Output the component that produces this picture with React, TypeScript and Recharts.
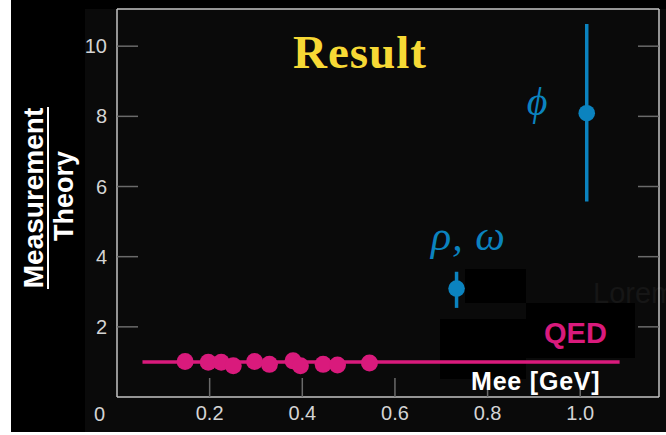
import React from 'react';
import { ComposedChart, XAxis, YAxis, Scatter, Line, ErrorBar } from 'recharts';

// ---- data ----
const qedMass = [0.147, 0.197, 0.225, 0.251, 0.297, 0.329, 0.38, 0.396, 0.445, 0.476, 0.545];
const qedRatio = [1.01, 0.99, 0.99, 0.89, 1.01, 0.93, 1.03, 0.89, 0.93, 0.91, 0.97];
const qedLineMass = [0.055, 1.085];
const qedLineRatio = [1.0, 1.0];
const resonanceMass = [0.733, 1.014];
const resonanceRatio = [3.09, 8.09];
const resonanceErrLow = [0.55, 2.52];
const resonanceErrHigh = [0.48, 2.54];
const xTicks = [0.2, 0.4, 0.6, 0.8, 1.0];
const yTicks = [0, 2, 4, 6, 8, 10];

const PINK = '#d91a7c';
const BLUE = '#0b83bf';
const FRAME = '#c4c4c4';
const TICKLINE = '#6a6a6a';
const TICKTEXT = '#d4d4d4';
const SANS = '"Liberation Sans", Arial, Helvetica, sans-serif';
const SERIF = '"Liberation Serif", "Times New Roman", serif';

const qedPoints = qedMass.map((x, i) => ({ x, y: qedRatio[i] }));
const qedLine = qedLineMass.map((x, i) => ({ x, y: qedLineRatio[i] }));
const resonances = resonanceMass.map((x, i) => ({
  x,
  y: resonanceRatio[i],
  err: [resonanceErrLow[i], resonanceErrHigh[i]],
}));

const LeftTick = (props: any) => {
  const { x, y, payload } = props;
  if (payload.value === 0) {
    return (
      <text x={x - 12} y={y + 17} dy="0.35em" textAnchor="end" fill={TICKTEXT} fontSize={20} fontFamily={SANS}>
        0
      </text>
    );
  }
  return (
    <g>
      <line x1={x} x2={x + 21} y1={y} y2={y} stroke={TICKLINE} strokeWidth={1.5} />
      <text x={x - 10} y={y} dy="0.35em" textAnchor="end" fill={TICKTEXT} fontSize={20} fontFamily={SANS}>
        {payload.value}
      </text>
    </g>
  );
};

const RightTick = (props: any) => {
  const { x, y, payload } = props;
  if (payload.value === 0) return <g />;
  return <line x1={x - 21} x2={x} y1={y} y2={y} stroke={TICKLINE} strokeWidth={1.5} />;
};

const BottomTick = (props: any) => {
  const { x, y, payload } = props;
  return (
    <g>
      <line x1={x} x2={x} y1={y - 19} y2={y} stroke={TICKLINE} strokeWidth={1.5} />
      <text x={x} y={y + 16} dy="0.35em" textAnchor="middle" fill={TICKTEXT} fontSize={20} fontFamily={SANS}>
        {Number(payload.value).toFixed(1)}
      </text>
    </g>
  );
};

const Dot = (color: string, r: number) => (props: any) => {
  const { cx, cy } = props;
  return <circle cx={cx} cy={cy} r={r} fill={color} />;
};

export default function App() {
  return (
    <div style={{ position: 'absolute', left: 0, top: 0, width: 666, height: 435, background: '#ffffff', overflow: 'hidden' }}>
      <div style={{ position: 'absolute', left: 11, top: 0, width: 655, height: 432, background: '#000' }} />
      <div style={{ position: 'absolute', left: 85, top: 9, width: 581, height: 423, background: '#0a0a0a' }} />
      {/* dark patches */}
      <div style={{ position: 'absolute', left: 465, top: 269, width: 61, height: 34, background: '#000' }} />
      <div style={{ position: 'absolute', left: 526, top: 303, width: 109, height: 55, background: '#000' }} />
      <div style={{ position: 'absolute', left: 440, top: 319, width: 86, height: 60, background: '#000' }} />
      <svg width={666} height={435} style={{ position: 'absolute', left: 0, top: 0 }}>
        <text x={593} y={303} fontSize={29} fontFamily={SANS} fill="#161616">Lorem</text>
      </svg>
      <div style={{ position: 'absolute', left: 0, top: 0 }}>
        <ComposedChart width={666} height={435} margin={{ top: 8, right: 0, bottom: 0, left: 57 }}>
          <XAxis
            xAxisId="b"
            type="number"
            dataKey="x"
            domain={[0, 1.17]}
            allowDataOverflow
            ticks={xTicks}
            height={38}
            tickSize={0}
            tickMargin={0}
            tickLine={false}
            axisLine={{ stroke: FRAME, strokeWidth: 1.5 }}
            tick={<BottomTick />}
          />
          <XAxis
            xAxisId="t"
            orientation="top"
            type="number"
            dataKey="x"
            domain={[0, 1.17]}
            allowDataOverflow
            height={1}
            tick={false}
            tickLine={false}
            axisLine={{ stroke: FRAME, strokeWidth: 1.5 }}
          />
          <YAxis
            yAxisId="l"
            type="number"
            domain={[0, 11.06]}
            allowDataOverflow
            ticks={yTicks}
            width={60}
            tickSize={0}
            tickMargin={0}
            tickLine={false}
            axisLine={{ stroke: FRAME, strokeWidth: 1.5 }}
            tick={<LeftTick />}
          />
          <YAxis
            yAxisId="r"
            orientation="right"
            type="number"
            domain={[0, 11.06]}
            allowDataOverflow
            ticks={yTicks}
            width={7}
            tickSize={0}
            tickMargin={0}
            tickLine={false}
            axisLine={{ stroke: FRAME, strokeWidth: 1.5 }}
            tick={<RightTick />}
          />
          <Line
            xAxisId="b"
            yAxisId="l"
            data={qedLine}
            dataKey="y"
            type="linear"
            stroke={PINK}
            strokeWidth={3.5}
            dot={false}
            activeDot={false}
            isAnimationActive={false}
          />
          <Scatter
            xAxisId="b"
            yAxisId="l"
            data={qedPoints}
            dataKey="y"
            fill={PINK}
            shape={Dot(PINK, 8.5)}
            isAnimationActive={false}
          />
          <Scatter
            xAxisId="b"
            yAxisId="l"
            data={resonances}
            dataKey="y"
            fill={BLUE}
            shape={Dot(BLUE, 8.3)}
            isAnimationActive={false}
          >
            <ErrorBar dataKey="err" direction="y" width={0} stroke={BLUE} strokeWidth={3.5} isAnimationActive={false} />
          </Scatter>
        </ComposedChart>
      </div>
      <svg width={666} height={435} style={{ position: 'absolute', left: 0, top: 0, pointerEvents: 'none' }}>
        <text x={360} y={68} textAnchor="middle" fontSize={47} fontWeight="bold" letterSpacing={1} fontFamily={SERIF} fill="#f7d935">
          Result
        </text>
        <text x={537} y={115} textAnchor="middle" fontSize={40} fontStyle="italic" fontFamily={SERIF} fill={BLUE}>
          ϕ
        </text>
        <text x={431} y={250} fontSize={42} fontStyle="italic" letterSpacing={1} fontFamily={SERIF} fill={BLUE}>
          ρ, ω
        </text>
        <text x={544} y={343} fontSize={29} fontWeight="bold" fontFamily={SANS} fill={PINK}>
          QED
        </text>
        <text x={471} y={390} fontSize={25} fontWeight="bold" letterSpacing={0.8} fontFamily={SANS} fill="#ffffff">
          Mee [GeV]
        </text>
        <text x={43} y={198} transform="rotate(-90 43 198)" textAnchor="middle" fontSize={28} fontWeight="bold" fontFamily={SANS} fill="#ffffff">
          Measurement
        </text>
        <line x1={48} x2={48} y1={107} y2={289} stroke="#ffffff" strokeWidth={2} />
        <text x={73} y={196} transform="rotate(-90 73 196)" textAnchor="middle" fontSize={27} fontWeight="bold" fontFamily={SANS} fill="#ffffff">
          Theory
        </text>
      </svg>
    </div>
  );
}
